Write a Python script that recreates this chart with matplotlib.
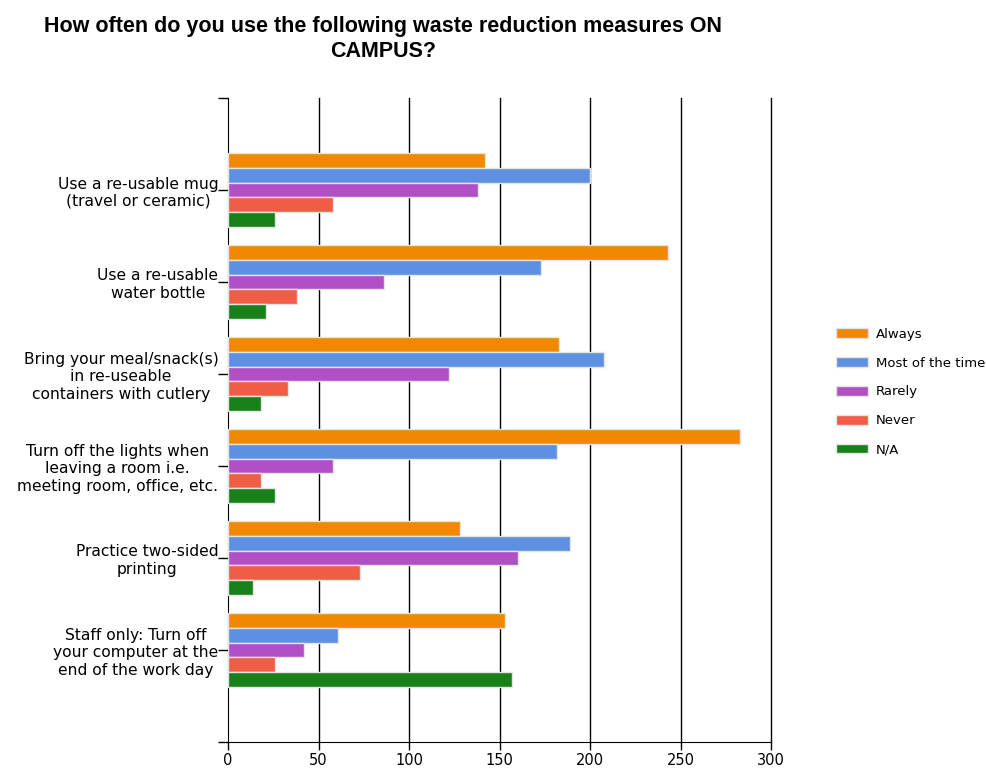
import numpy as np
import matplotlib
matplotlib.use("Agg")
import matplotlib.pyplot as plt

categories = [
    "Use a re-usable mug\n(travel or ceramic)",
    "Use a re-usable\nwater bottle",
    "Bring your meal/snack(s)\nin re-useable\ncontainers with cutlery",
    "Turn off the lights when\nleaving a room i.e.\nmeeting room, office, etc.",
    "Practice two-sided\nprinting",
    "Staff only: Turn off\nyour computer at the\nend of the work day",
]
series_names = ["Always", "Most of the time", "Rarely", "Never", "N/A"]
always = [142, 243, 183, 283, 128, 153]
most_of_the_time = [200, 173, 208, 182, 189, 61]
rarely = [138, 86, 122, 58, 160, 42]
never = [58, 38, 33, 18, 73, 26]
not_applicable = [26, 21, 18, 26, 14, 157]
colors = ["#F08800", "#5E90E2", "#B050C4", "#F05C44", "#188018"]
x_ticks = [0, 50, 100, 150, 200, 250, 300]

values = [always, most_of_the_time, rarely, never, not_applicable]

fig = plt.figure(figsize=(9.87, 7.7), dpi=100)
ax = fig.add_axes([228 / 987, 1 - 742 / 770, 543 / 987, 644 / 770])

pos = np.arange(1, len(categories) + 1)
h = 0.16
for i, (name, vals, c) in enumerate(zip(series_names, values, colors)):
    ax.barh(pos + (i - 2) * h, vals, height=h, color=c, edgecolor="#e4e4e4",
            linewidth=1.0, label=name, zorder=3)

ax.set_xlim(0, 300)
ax.set_ylim(7, 0)
ax.set_xticks(x_ticks)
ax.set_xticklabels([str(t) for t in x_ticks], fontsize=10.5)
ax.set_yticks(pos)
ax.set_yticklabels(categories, fontsize=11.2, multialignment="center",
                   linespacing=1.2)
ax.set_yticks([0, 7], minor=True)
ax.tick_params(axis="y", which="both", length=7, width=1, color="black", pad=0)
ax.tick_params(axis="x", length=6, width=1, color="black", pad=2)

# vertical grid lines, incl. the one at 300 on the right edge
for t in x_ticks[1:]:
    ax.axvline(t, color="black", linewidth=1, zorder=0, clip_on=False)
ax.spines["top"].set_visible(False)
ax.spines["right"].set_visible(False)
ax.spines["left"].set_color("black")
ax.spines["bottom"].set_color("black")

fig.text(383 / 987, 1 - 39 / 770,
         "How often do you use the following waste reduction measures ON\nCAMPUS?",
         ha="center", va="center", fontsize=15.5, fontweight="bold",
         family="Liberation Sans", linespacing=1.25)

leg = ax.legend(loc="center left", bbox_to_anchor=(836 / 987, 1 - 392 / 770),
                bbox_transform=fig.transFigure, frameon=False, fontsize=9.5,
                handlelength=2.4, handleheight=0.75, labelspacing=1.2,
                handletextpad=0.6, borderaxespad=0, borderpad=0)

fig.savefig("out.png", dpi=100)
